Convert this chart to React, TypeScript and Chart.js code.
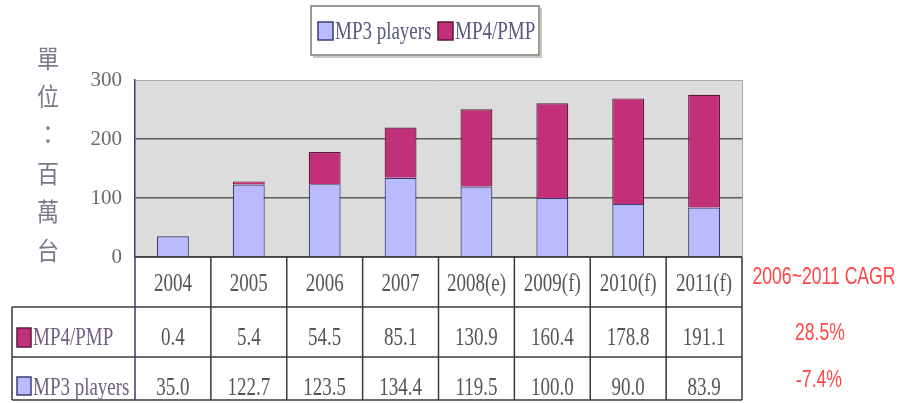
import React, { useEffect, useRef } from "react";
import { Chart, registerables } from "chart.js";

Chart.register(...registerables);

const categories = ["2004", "2005", "2006", "2007", "2008(e)", "2009(f)", "2010(f)", "2011(f)"];
const mp3Label = "MP3 players";
const mp4Label = "MP4/PMP";
const mp3Values = [35.0, 122.7, 123.5, 134.4, 119.5, 100.0, 90.0, 83.9];
const mp4Values = [0.4, 5.4, 54.5, 85.1, 130.9, 160.4, 178.8, 191.1];
const yMin = 0;
const yMax = 300;
const yStep = 100;
const yTitleChars = ["單", "位", "：", "百", "萬", "台"];
const cagrTitle = "2006~2011 CAGR";
const cagrMp4 = "28.5%";
const cagrMp3 = "-7.4%";

const MP3_FILL = "#babaff";
const MP3_BORDER = "#3e3e70";
const MP4_FILL = "#c2307a";
const MP4_BORDER = "#5a1838";

function condText(
  ctx: CanvasRenderingContext2D,
  text: string,
  x: number,
  y: number,
  font: string,
  color: string,
  align: CanvasTextAlign = "center",
  sx = 0.73,
  sy = 1
) {
  ctx.save();
  ctx.font = font;
  ctx.fillStyle = color;
  ctx.textBaseline = "middle";
  ctx.textAlign = align;
  ctx.translate(x, y);
  ctx.scale(sx, sy);
  ctx.fillText(text, 0, 0);
  ctx.restore();
}

const SERIF = '26px "Liberation Serif", "Times New Roman", serif';

const decorPlugin = {
  id: "decor",
  beforeDraw(chart: any) {
    const { ctx, chartArea: a, width, height } = chart;
    ctx.save();
    ctx.fillStyle = "#ffffff";
    ctx.fillRect(0, 0, width, height);
    ctx.fillStyle = "#dcdcdc";
    ctx.fillRect(a.left, a.top, a.right - a.left, a.bottom - a.top);
    ctx.restore();
  },
  afterDraw(chart: any) {
    const { ctx, chartArea: a } = chart;
    const xs = chart.scales.x;
    const n = categories.length;
    const colW = (a.right - a.left) / n;
    const headTop = a.bottom;
    const row1Top = 307;
    const row2Top = 357;
    const tBottom = 400;
    const labelLeft = 12;

    ctx.save();
    ctx.strokeStyle = "#a8a8a0";
    ctx.lineWidth = 1;
    ctx.beginPath();
    ctx.moveTo(a.right + 0.5, a.top);
    ctx.lineTo(a.right + 0.5, a.bottom);
    ctx.stroke();

    ctx.strokeStyle = "#3a3a3a";
    ctx.lineWidth = 1.5;
    ctx.beginPath();
    ctx.moveTo(a.left, headTop);
    ctx.lineTo(a.right, headTop);
    [row1Top, row2Top, tBottom].forEach((y) => {
      ctx.moveTo(labelLeft, y);
      ctx.lineTo(a.right, y);
    });
    ctx.moveTo(labelLeft, row1Top);
    ctx.lineTo(labelLeft, tBottom);
    for (let i = 1; i <= n; i++) {
      const x = xs.getPixelForValue(i - 1) + colW / 2;
      ctx.moveTo(x, headTop);
      ctx.lineTo(x, tBottom);
    }
    ctx.stroke();
    ctx.strokeStyle = "#3e3e66";
    ctx.beginPath();
    ctx.moveTo(a.left, headTop);
    ctx.lineTo(a.left, tBottom);
    ctx.stroke();
    ctx.restore();

    const txt = "#555555";
    categories.forEach((c, i) => {
      const cx = xs.getPixelForValue(i);
      condText(ctx, c, cx, 284, SERIF, txt);
      condText(ctx, mp4Values[i].toFixed(1), cx, 338, SERIF, txt);
      condText(ctx, mp3Values[i].toFixed(1), cx, 388, SERIF, txt);
    });

    const swatch = (x: number, y: number, w: number, h: number, fill: string, stroke: string) => {
      ctx.save();
      ctx.fillStyle = fill;
      ctx.fillRect(x, y, w, h);
      ctx.strokeStyle = stroke;
      ctx.lineWidth = 1.5;
      ctx.strokeRect(x, y, w, h);
      ctx.restore();
    };
    swatch(17, 328, 14, 19, MP4_FILL, MP4_BORDER);
    condText(ctx, mp4Label, 33, 338, SERIF, "#6e6080", "left");
    swatch(17, 377, 14, 18, MP3_FILL, MP3_BORDER);
    condText(ctx, mp3Label, 33, 388, SERIF, "#6e6080", "left");

    ctx.save();
    ctx.fillStyle = "#ffffff";
    ctx.fillRect(311, 6, 228, 49);
    ctx.strokeStyle = "#c8c8c0";
    ctx.lineWidth = 2;
    ctx.beginPath();
    ctx.moveTo(541, 8);
    ctx.lineTo(541, 57);
    ctx.lineTo(313, 57);
    ctx.stroke();
    ctx.strokeStyle = "#7a7a72";
    ctx.lineWidth = 1.5;
    ctx.strokeRect(311, 6, 228, 49);
    ctx.restore();
    swatch(318, 22, 15, 18, MP3_FILL, MP3_BORDER);
    condText(ctx, mp3Label, 335, 32, SERIF, "#585880", "left");
    swatch(438, 22, 15, 18, MP4_FILL, MP4_BORDER);
    condText(ctx, mp4Label, 455, 32, SERIF, "#585880", "left");

    ctx.save();
    ctx.font = '22px "Noto Sans CJK TC", sans-serif';
    ctx.fillStyle = "#7e7688";
    ctx.textAlign = "center";
    ctx.textBaseline = "middle";
    yTitleChars.forEach((ch, i) => {
      ctx.save();
      ctx.translate(48, 58 + i * 38.4);
      ctx.scale(1, 1.15);
      ctx.fillText(ch, 0, 0);
      ctx.restore();
    });
    ctx.restore();

    const sans = '20px "Liberation Sans", Arial, sans-serif';
    const red = "#ff4646";
    condText(ctx, cagrTitle, 824, 277, sans, red, "center", 0.88, 1.18);
    condText(ctx, cagrMp4, 820, 333, sans, red, "center", 0.88, 1.18);
    condText(ctx, cagrMp3, 819, 380, sans, red, "center", 0.88, 1.18);
  },
};

export default function App() {
  const ref = useRef<HTMLCanvasElement | null>(null);
  useEffect(() => {
    if (!ref.current) return;
    const chart = new Chart(ref.current, {
      type: "bar",
      data: {
        labels: categories,
        datasets: [
          {
            label: mp3Label,
            data: mp3Values,
            backgroundColor: MP3_FILL,
            borderColor: MP3_BORDER,
            borderWidth: 1.2,
          },
          {
            label: mp4Label,
            data: mp4Values,
            backgroundColor: MP4_FILL,
            borderColor: MP4_BORDER,
            borderWidth: 1.2,
          },
        ],
      },
      options: {
        responsive: false,
        animation: false,
        devicePixelRatio: 1,
        layout: { padding: { left: 0, top: 80, right: 162, bottom: 146 } },
        datasets: { bar: { barPercentage: 0.42, categoryPercentage: 1 } },
        plugins: { legend: { display: false }, tooltip: { enabled: false } },
        scales: {
          x: { stacked: true, display: false },
          y: {
            stacked: true,
            min: yMin,
            max: yMax,
            afterFit: (scale: any) => {
              scale.width = 135;
            },
            ticks: {
              stepSize: yStep,
              padding: 13,
              color: "#6a6a6a",
              font: { family: '"Liberation Serif", serif', size: 21 },
            },
            grid: {
              drawTicks: false,
              color: (c: any) => (c.tick && c.tick.value === yMax ? "#a8a8a0" : "#5c5c50"),
              lineWidth: (c: any) => (c.tick && c.tick.value === yMax ? 1 : 1.5),
            },
            border: { display: true, color: "#3e3e66", width: 1.5 },
          },
        },
      },
      plugins: [decorPlugin],
    });
    return () => chart.destroy();
  }, []);
  return (
    <div style={{ position: "absolute", left: 0, top: 0, width: 904, height: 403 }}>
      <canvas ref={ref} width={904} height={403} style={{ display: "block" }} />
    </div>
  );
}
